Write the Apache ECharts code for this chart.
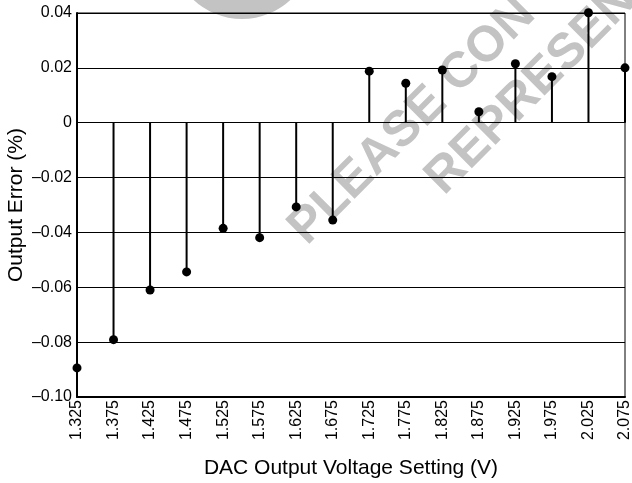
<!DOCTYPE html>
<html>
<head>
<meta charset="utf-8">
<script src="https://cdn.jsdelivr.net/npm/echarts/dist/echarts.min.js"></script>
<style>
  html, body { margin: 0; padding: 0; background: #fff; }
  #chart { width: 632px; height: 483px; }
</style>
</head>
<body>
<div id="chart"></div>
<script>
// DAC output voltage setting (V)
const voltages = ['1.325', '1.375', '1.425', '1.475', '1.525', '1.575', '1.625', '1.675',
  '1.725', '1.775', '1.825', '1.875', '1.925', '1.975', '2.025', '2.075']
// output error (%)
const outputError = [-0.0894, -0.0791, -0.0610, -0.0544, -0.0385, -0.0419, -0.0307, -0.0355,
  0.0188, 0.0144, 0.0192, 0.0040, 0.0215, 0.0168, 0.0401, 0.0200]
// y axis range
const yMin = -0.1
const yMax = 0.04
const yStep = 0.02

const font = 'Liberation Sans, Arial, Helvetica, sans-serif'
const chart = echarts.init(document.getElementById('chart'))

const fmtY = (v) => {
  const r = Math.round(v * 100) / 100
  if (r === 0) return '0'
  return r < 0 ? '\u2013' + Math.abs(r).toFixed(2) : r.toFixed(2)
}

const wmAngle = 45 * Math.PI / 180
const option = {
  animation: false,
  backgroundColor: '#fff',
  textStyle: { fontFamily: font },
  grid: {
    left: 77, right: 7, top: 13, bottom: 86,
    outerBoundsMode: 'none',
    containLabel: false,
    show: true, borderColor: '#000', borderWidth: 1
  },
  // watermark
  graphic: [
    { type: 'circle', z: -10, shape: { cx: 242, cy: -52, r: 71 }, style: { fill: '#c3c3c3' } },
    {
      type: 'text', z: -10, x: 315, y: 254, rotation: wmAngle,
      style: { text: 'PLEASE CON', fill: '#c3c3c3', font: 'bold 50px ' + font, textAlign: 'left', textVerticalAlign: 'bottom' }
    },
    {
      type: 'text', z: -10, x: 452, y: 204, rotation: wmAngle,
      style: { text: 'REPRESEN', fill: '#c3c3c3', font: 'bold 50px ' + font, textAlign: 'left', textVerticalAlign: 'bottom' }
    }
  ],
  xAxis: {
    type: 'category',
    data: voltages,
    boundaryGap: false,
    name: 'DAC Output Voltage Setting (V)',
    nameLocation: 'middle',
    nameGap: 61,
    nameMoveOverlap: false,
    nameTextStyle: { fontSize: 21, color: '#000', fontFamily: font },
    axisLine: { onZero: false, lineStyle: { color: '#000', width: 2 } },
    axisTick: { show: false },
    axisLabel: { rotate: 90, fontSize: 16, color: '#000', margin: 3, fontFamily: font, interval: 0 },
    splitLine: { show: false }
  },
  yAxis: {
    type: 'value',
    min: yMin,
    max: yMax,
    interval: yStep,
    name: 'Output Error (%)',
    nameLocation: 'middle',
    nameGap: 50,
    nameMoveOverlap: false,
    nameTextStyle: { fontSize: 21, color: '#000', fontFamily: font },
    axisLine: { show: true, lineStyle: { color: '#000', width: 2 } },
    axisTick: { show: false },
    axisLabel: { fontSize: 16, color: '#000', margin: 5, fontFamily: font, formatter: fmtY },
    splitLine: { show: true, lineStyle: { color: '#000', width: 1 } }
  },
  series: [
    {
      type: 'bar',
      data: outputError,
      barWidth: 2,
      clip: false,
      itemStyle: { color: '#000' },
      z: 3
    },
    {
      type: 'scatter',
      data: outputError,
      symbol: 'circle',
      symbolSize: 9,
      clip: false,
      itemStyle: { color: '#000', opacity: 1 },
      z: 4
    }
  ]
}
chart.setOption(option)
</script>
</body>
</html>
